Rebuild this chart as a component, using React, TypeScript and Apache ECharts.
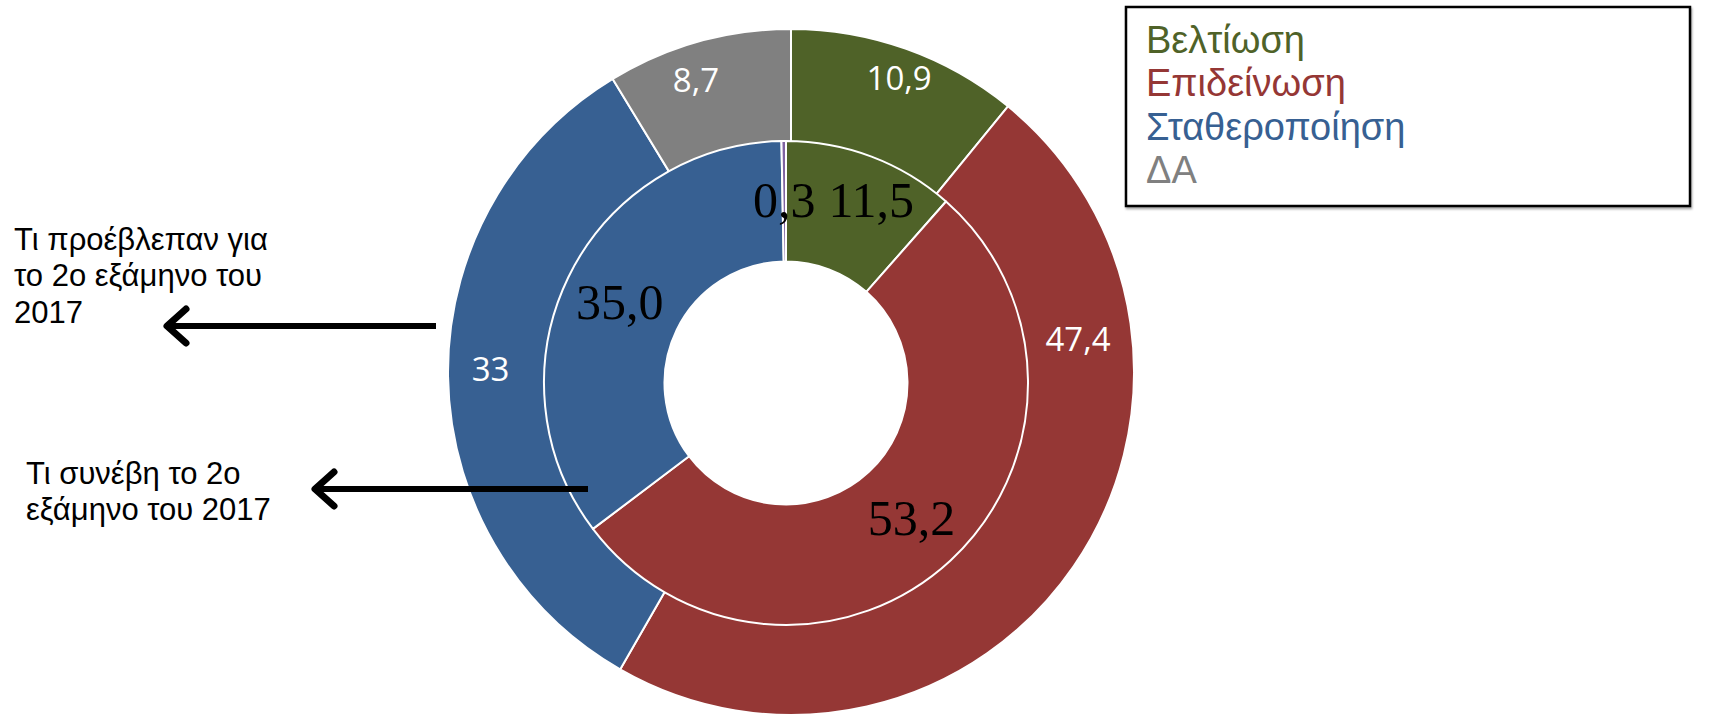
import React, { useEffect, useRef } from "react";
import * as echarts from "echarts";

const categories = ["Βελτίωση", "Επιδείνωση", "Σταθεροποίηση", "ΔΑ"];
// outer ring: expectations for 2nd half of 2017
const expectedValues = [10.9, 47.4, 33, 8.7];
// inner ring: what happened in 2nd half of 2017
const actualValues = [11.5, 53.2, 35.0, 0.3];

const outerColors = ["#4F6228", "#953735", "#376092", "#808080"];
const innerColors = ["#4F6228", "#953735", "#376092", "#8064A2"];
const legendColors = ["#4F6228", "#953735", "#376092", "#808080"];

const annotationExpected = "Τι προέβλεπαν για\nτο 2ο εξάμηνο του\n2017";
const annotationActual = "Τι συνέβη το 2ο\nεξάμηνο του 2017";

// label nudges (style only)
const outerLabelShift = [
  [16, -36],
  [61, -189],
  [-26, -7],
  [-21, -28],
];
const innerLabelShift = [
  [20, -10],
  [0, 0],
  [0, 0],
  [0, 2],
];

export default function App() {
  const ref = useRef<HTMLDivElement | null>(null);

  useEffect(() => {
    if (!ref.current) return;
    const chart = echarts.init(ref.current, undefined, { renderer: "svg" });

    const option: any = {
      animation: false,
      backgroundColor: "#ffffff",
      legend: {
        orient: "vertical",
        left: 1135,
        top: 13,
        icon: "none",
        itemWidth: 1,
        itemHeight: 1,
        itemGap: 0,
        selectedMode: false,
        z: 10,
        data: categories.map((name, i) => ({
          name,
          textStyle: { color: legendColors[i] },
        })),
        textStyle: {
          fontFamily: "Liberation Sans",
          fontSize: 38,
          lineHeight: 43.5,
        },
      },
      graphic: [
        {
          type: "rect",
          z: 0,
          shape: { x: 1126, y: 7, width: 564, height: 199 },
          style: {
            fill: "#ffffff",
            stroke: "#000000",
            lineWidth: 2.5,
            shadowColor: "rgba(0,0,0,0.35)",
            shadowOffsetY: 2,
            shadowOffsetX: 1,
            shadowBlur: 2,
          },
        },
        {
          type: "text",
          z: 10,
          style: {
            text: annotationExpected,
            x: 14,
            y: 221,
            fill: "#000000",
            font: '31px "Liberation Sans"',
            lineHeight: 36.5,
            verticalAlign: "top",
            align: "left",
          },
        },
        {
          type: "text",
          z: 10,
          style: {
            text: annotationActual,
            x: 26,
            y: 455,
            fill: "#000000",
            font: '31px "Liberation Sans"',
            lineHeight: 36,
            verticalAlign: "top",
            align: "left",
          },
        },
        {
          type: "line",
          z: 10,
          shape: { x1: 436, y1: 326, x2: 170, y2: 326 },
          style: { stroke: "#000000", lineWidth: 6 },
        },
        {
          type: "polyline",
          z: 10,
          shape: {
            points: [
              [186, 309],
              [167, 326],
              [186, 343],
            ],
          },
          style: { stroke: "#000000", lineWidth: 7, fill: null, lineCap: "round", lineJoin: "round" },
        },
        {
          type: "line",
          z: 10,
          shape: { x1: 588, y1: 489, x2: 318, y2: 489 },
          style: { stroke: "#000000", lineWidth: 6 },
        },
        {
          type: "polyline",
          z: 10,
          shape: {
            points: [
              [334, 472],
              [315, 489],
              [334, 506],
            ],
          },
          style: { stroke: "#000000", lineWidth: 7, fill: null, lineCap: "round", lineJoin: "round" },
        },
      ],
      series: [
        {
          type: "pie",
          name: "expected",
          z: 1,
          center: [791, 372],
          radius: [200, 343],
          startAngle: 90,
          clockwise: true,
          avoidLabelOverlap: false,
          silent: true,
          emphasis: { disabled: true },
          itemStyle: { borderColor: "#ffffff", borderWidth: 2 },
          label: {
            show: true,
            position: "inside",
            color: "#ffffff",
            fontFamily: "Open Sans",
            fontSize: 33,
            formatter: (p: any) => String(p.value).replace(".", ","),
          },
          labelLine: { show: false },
          labelLayout: (p: any) => ({
            dx: outerLabelShift[p.dataIndex][0],
            dy: outerLabelShift[p.dataIndex][1],
          }),
          data: categories.map((name, i) => ({
            name,
            value: expectedValues[i],
            itemStyle: { color: outerColors[i] },
          })),
        },
        {
          type: "pie",
          name: "actual",
          z: 2,
          center: [786, 383],
          radius: [121.5, 242],
          startAngle: 90,
          clockwise: true,
          avoidLabelOverlap: false,
          silent: true,
          emphasis: { disabled: true },
          itemStyle: { borderColor: "#ffffff", borderWidth: 2 },
          label: {
            show: true,
            position: "inside",
            color: "#000000",
            fontFamily: "Liberation Serif",
            fontSize: 50,
            formatter: (p: any) => Number(p.value).toFixed(1).replace(".", ","),
          },
          labelLine: { show: false },
          labelLayout: (p: any) => ({
            dx: innerLabelShift[p.dataIndex][0],
            dy: innerLabelShift[p.dataIndex][1],
          }),
          data: categories.map((name, i) => ({
            name,
            value: actualValues[i],
            itemStyle: { color: innerColors[i] },
          })),
        },
      ],
    };

    chart.setOption(option);
    return () => {
      chart.dispose();
    };
  }, []);

  return (
    <div
      ref={ref}
      style={{
        position: "fixed",
        left: 0,
        top: 0,
        width: 1717,
        height: 715,
        background: "#ffffff",
      }}
    />
  );
}
